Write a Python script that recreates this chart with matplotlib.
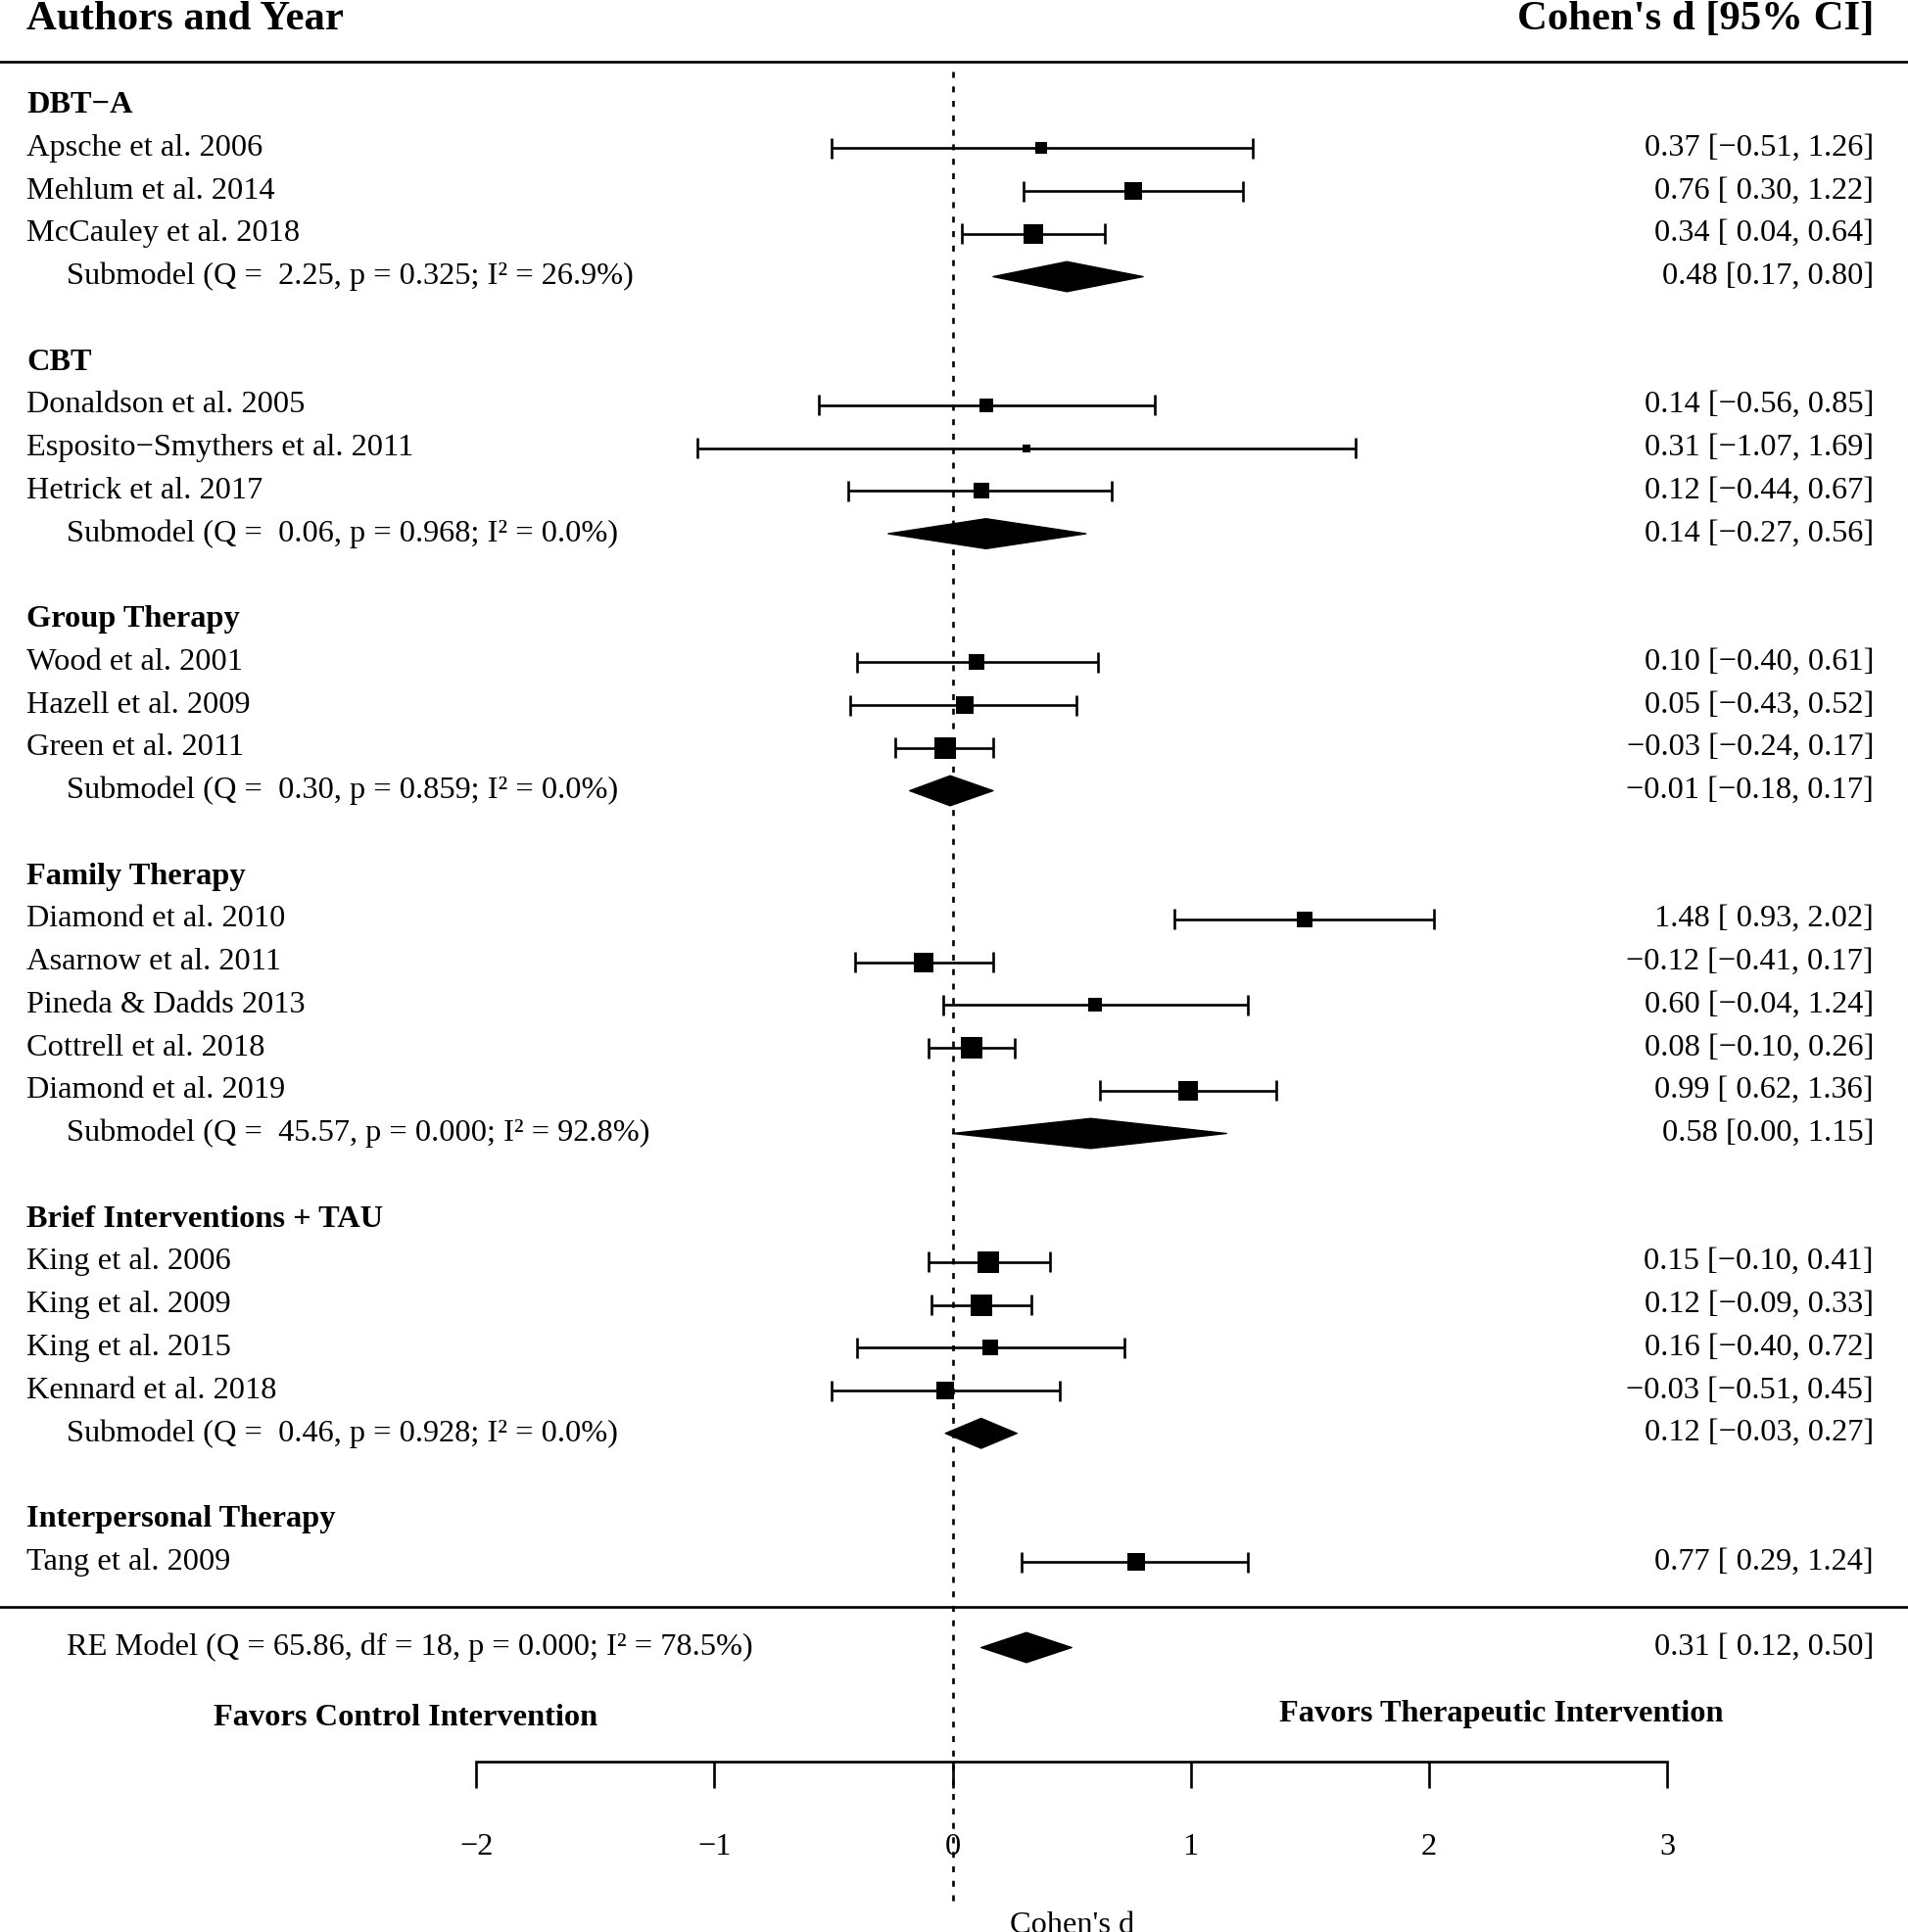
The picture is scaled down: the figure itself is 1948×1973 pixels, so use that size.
import matplotlib
matplotlib.use("Agg")
import matplotlib.pyplot as plt
from matplotlib.patches import Polygon

plt.rcParams['font.family'] = ['Liberation Serif', 'DejaVu Serif']

# ---------------- data ----------------
groups = ["DBT\u2212A", "CBT", "Group Therapy", "Family Therapy",
          "Brief Interventions + TAU", "Interpersonal Therapy"]

studies = [
    ["Apsche et al. 2006", "Mehlum et al. 2014", "McCauley et al. 2018"],
    ["Donaldson et al. 2005", "Esposito\u2212Smythers et al. 2011", "Hetrick et al. 2017"],
    ["Wood et al. 2001", "Hazell et al. 2009", "Green et al. 2011"],
    ["Diamond et al. 2010", "Asarnow et al. 2011", "Pineda & Dadds 2013",
     "Cottrell et al. 2018", "Diamond et al. 2019"],
    ["King et al. 2006", "King et al. 2009", "King et al. 2015", "Kennard et al. 2018"],
    ["Tang et al. 2009"],
]
est = [
    [0.37, 0.76, 0.34],
    [0.14, 0.31, 0.12],
    [0.10, 0.05, -0.03],
    [1.48, -0.12, 0.60, 0.08, 0.99],
    [0.15, 0.12, 0.16, -0.03],
    [0.77],
]
ci_lo = [
    [-0.51, 0.30, 0.04],
    [-0.56, -1.07, -0.44],
    [-0.40, -0.43, -0.24],
    [0.93, -0.41, -0.04, -0.10, 0.62],
    [-0.10, -0.09, -0.40, -0.51],
    [0.29],
]
ci_hi = [
    [1.26, 1.22, 0.64],
    [0.85, 1.69, 0.67],
    [0.61, 0.52, 0.17],
    [2.02, 0.17, 1.24, 0.26, 1.36],
    [0.41, 0.33, 0.72, 0.45],
    [1.24],
]
# relative study weight (box side, px in reference)
box_px = [
    [11.5, 17.3, 20.4],
    [14.1, 8.4, 15.7],
    [16.2, 17.3, 22.5],
    [16.7, 20.9, 14.6, 22.5, 19.4],
    [21.4, 22.5, 16.2, 17.3],
    [17.3],
]
sub_Q = [2.25, 0.06, 0.30, 45.57, 0.46, None]
sub_p = [0.325, 0.968, 0.859, 0.000, 0.928, None]
sub_I2 = [26.9, 0.0, 0.0, 92.8, 0.0, None]
sub_est = [0.48, 0.14, -0.01, 0.58, 0.12, None]
sub_lo = [0.17, -0.27, -0.18, 0.00, -0.03, None]
sub_hi = [0.80, 0.56, 0.17, 1.15, 0.27, None]

re_Q, re_df, re_p, re_I2 = 65.86, 18, 0.000, 78.5
re_est, re_lo, re_hi = 0.31, 0.12, 0.50

xticks = [-2, -1, 0, 1, 2, 3]
xtick_labels = ["\u22122", "\u22121", "0", "1", "2", "3"]

# ---------------- figure ----------------
W, H, DPI = 1948, 1973, 100
fig = plt.figure(figsize=(W / DPI, H / DPI), dpi=DPI)
ax = fig.add_axes([0, 0, 1, 1])
ax.set_xlim(-3.999, 4.011)
ax.set_ylim(41.64, -3.458)

FS = 23.3
LW = 1.9
X_LEFT = -3.888
X_INDENT = -3.719
X_RIGHT = 3.867
CAP = 0.24
DH = 0.35


def fmt(v):
    return f"{v:.2f}".replace("-", "\u2212")


def ci_text(e, lo, hi, pad=True):
    lo_s = fmt(lo)
    if pad and lo >= 0:
        lo_s = " " + lo_s
    return f"{fmt(e)} [{lo_s}, {fmt(hi)}]"


def diamond(y, e, lo, hi):
    poly = Polygon([[lo, y], [e, y - DH], [hi, y], [e, y + DH]],
                   closed=True, facecolor='black', edgecolor='black',
                   linewidth=1.0, joinstyle='round')
    ax.add_patch(poly)


# header
ax.text(X_LEFT, -3.0, "Authors and Year", fontsize=30.8, fontweight='bold',
        ha='left', va='center')
ax.text(X_RIGHT, -3.0, "Cohen's d [95% CI]", fontsize=30.8, fontweight='bold',
        ha='right', va='center')
ax.axhline(-2.025, color='black', lw=LW)

row = -1
for g in range(len(groups)):
    ax.text(X_LEFT, row, groups[g], fontsize=FS, fontweight='bold',
            ha='left', va='center')
    row += 1
    for i in range(len(studies[g])):
        e, lo, hi = est[g][i], ci_lo[g][i], ci_hi[g][i]
        ax.plot([lo, hi], [row, row], color='black', lw=LW, solid_capstyle='butt')
        ax.plot([lo, lo], [row - CAP, row + CAP], color='black', lw=LW, solid_capstyle='butt')
        ax.plot([hi, hi], [row - CAP, row + CAP], color='black', lw=LW, solid_capstyle='butt')
        ax.plot([e], [row], marker='s', color='black', markeredgewidth=0,
                markersize=box_px[g][i] * 72 / DPI, zorder=4)
        ax.text(X_LEFT, row, studies[g][i], fontsize=FS, ha='left', va='center')
        ax.text(X_RIGHT, row, ci_text(e, lo, hi), fontsize=FS, ha='right', va='center')
        row += 1
    if sub_Q[g] is not None:
        lab = (f"Submodel (Q =  {sub_Q[g]:.2f}, p = {sub_p[g]:.3f}; "
               f"I\u00b2 = {sub_I2[g]:.1f}%)")
        ax.text(X_INDENT, row, lab, fontsize=FS, ha='left', va='center')
        diamond(row, sub_est[g], sub_lo[g], sub_hi[g])
        ax.text(X_RIGHT, row, ci_text(sub_est[g], sub_lo[g], sub_hi[g], pad=False),
                fontsize=FS, ha='right', va='center')
        row += 1
    row += 1

# separator and overall model
ax.axhline(34.04, color='black', lw=LW)
re_lab = (f"RE Model (Q = {re_Q:.2f}, df = {re_df}, p = {re_p:.3f}; "
          f"I\u00b2 = {re_I2:.1f}%)")
ax.text(X_INDENT, 35, re_lab, fontsize=FS, ha='left', va='center')
diamond(35, re_est, re_lo, re_hi)
ax.text(X_RIGHT, 35, ci_text(re_est, re_lo, re_hi), fontsize=FS, ha='right', va='center')

# favors labels
ax.text(-2.297, 36.64, "Favors Control Intervention", fontsize=FS, fontweight='bold',
        ha='center', va='center')
ax.text(2.304, 36.56, "Favors Therapeutic Intervention", fontsize=FS, fontweight='bold',
        ha='center', va='center')

# reference line at zero
ax.plot([0, 0], [-1.79, 41.07], color='black', lw=LW,
        linestyle=(0, (2.3, 3.3)), zorder=1)

# x axis
for s in ['top', 'left', 'right']:
    ax.spines[s].set_visible(False)
ax.spines['bottom'].set_position(('data', 37.66))
ax.spines['bottom'].set_bounds(-2, 3)
ax.spines['bottom'].set_linewidth(LW)
ax.set_xticks(xticks)
ax.set_xticklabels(xtick_labels)
ax.tick_params(axis='x', direction='out', length=19.4, width=LW, pad=33.5,
               labelsize=FS)
ax.set_yticks([])
ax.patch.set_visible(False)

ax.text(0.5, 41.48, "Cohen's d", fontsize=FS, ha='center', va='center')

fig.savefig("out.png", dpi=DPI)
